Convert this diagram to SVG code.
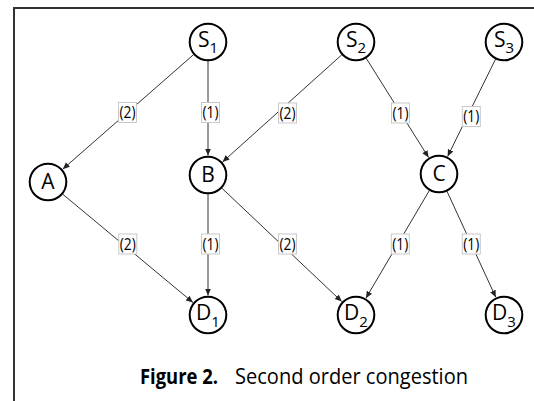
<svg xmlns="http://www.w3.org/2000/svg" width="534" height="401" viewBox="0 0 534 401">
<defs>
<marker id="arr" markerUnits="userSpaceOnUse" markerWidth="8" markerHeight="7" refX="7" refY="3" orient="auto">
<path d="M0,0 L7,3 L0,6 z" fill="#222"/>
</marker>
<style>
.node circle{fill:#fff;stroke:#000;stroke-width:2}
.nl{font-family:"Open Sans","Liberation Sans",sans-serif;font-size:21px;fill:#000;text-anchor:middle}
.sub{font-size:15px}
.edge{stroke:#333;stroke-width:1;fill:none;marker-end:url(#arr)}
.lb rect{fill:#fff;stroke:#c8c8c8;stroke-width:1}
.lb text{font-family:"Open Sans","Liberation Sans",sans-serif;font-size:15.5px;fill:#000;text-anchor:middle}
.cap{font-family:"Open Sans","Liberation Sans",sans-serif;font-size:21px;fill:#000}
</style>
</defs>
<rect width="534" height="401" fill="#fff"/>
<path d="M14,401 V8 H534" fill="none" stroke="#333" stroke-width="2"/>
<g id="connectors">
<line class="edge" x1="193.7" y1="54.5" x2="62.7" y2="169.2"/>
<line class="edge" x1="208" y1="61" x2="208" y2="155.5"/>
<line class="edge" x1="341.9" y1="54.7" x2="222.5" y2="162"/>
<line class="edge" x1="366.1" y1="58.1" x2="428.6" y2="157.5"/>
<line class="edge" x1="495.6" y1="59" x2="447.6" y2="156.5"/>
<line class="edge" x1="62.6" y1="194.1" x2="193" y2="302.5"/>
<line class="edge" x1="208" y1="194" x2="208" y2="295.5"/>
<line class="edge" x1="221.8" y1="188.1" x2="341.8" y2="301.6"/>
<line class="edge" x1="429.4" y1="190.4" x2="365.9" y2="298.2"/>
<line class="edge" x1="447" y1="191.3" x2="495.8" y2="297.3"/>
<g class="lb"><rect x="118.5" y="102.5" width="18" height="20"/><text x="127.5" y="118" textLength="16" lengthAdjust="spacingAndGlyphs">(2)</text></g>
<g class="lb"><rect x="201.5" y="102.5" width="18" height="20"/><text x="210.5" y="118" textLength="16" lengthAdjust="spacingAndGlyphs">(1)</text></g>
<g class="lb"><rect x="278.5" y="103" width="18" height="20"/><text x="287.5" y="118.5" textLength="16" lengthAdjust="spacingAndGlyphs">(2)</text></g>
<g class="lb"><rect x="391.5" y="103" width="18" height="20"/><text x="400.5" y="118.5" textLength="16" lengthAdjust="spacingAndGlyphs">(1)</text></g>
<g class="lb"><rect x="462.3" y="106.5" width="18" height="20"/><text x="471.3" y="122" textLength="16" lengthAdjust="spacingAndGlyphs">(1)</text></g>
<g class="lb"><rect x="118.8" y="234" width="18" height="20"/><text x="127.8" y="249.5" textLength="16" lengthAdjust="spacingAndGlyphs">(2)</text></g>
<g class="lb"><rect x="201.5" y="234" width="18" height="20"/><text x="210.5" y="249.5" textLength="16" lengthAdjust="spacingAndGlyphs">(1)</text></g>
<g class="lb"><rect x="278.5" y="234" width="18" height="20"/><text x="287.5" y="249.5" textLength="16" lengthAdjust="spacingAndGlyphs">(2)</text></g>
<g class="lb"><rect x="391.3" y="234" width="18" height="20"/><text x="400.3" y="249.5" textLength="16" lengthAdjust="spacingAndGlyphs">(1)</text></g>
<g class="lb"><rect x="462.3" y="234" width="18" height="20"/><text x="471.3" y="249.5" textLength="16" lengthAdjust="spacingAndGlyphs">(1)</text></g>
</g>
<g id="S1" class="node"><circle cx="208" cy="42" r="18.3"/><text class="nl" x="208" y="47">S<tspan class="sub" dy="6">1</tspan></text></g>
<g id="S2" class="node"><circle cx="356" cy="42" r="18.3"/><text class="nl" x="356" y="47">S<tspan class="sub" dy="6">2</tspan></text></g>
<g id="S3" class="node"><circle cx="504" cy="42" r="18.3"/><text class="nl" x="504" y="47">S<tspan class="sub" dy="6">3</tspan></text></g>
<g id="A" class="node"><circle cx="48" cy="182" r="18.3"/><text class="nl" x="48" y="189">A</text></g>
<g id="B" class="node"><circle cx="208" cy="175" r="18.3"/><text class="nl" x="208" y="182">B</text></g>
<g id="C" class="node"><circle cx="439" cy="174" r="18.3"/><text class="nl" x="439" y="181">C</text></g>
<g id="D1" class="node"><circle cx="208" cy="315" r="18.3"/><text class="nl" x="208" y="319.5">D<tspan class="sub" dy="7">1</tspan></text></g>
<g id="D2" class="node"><circle cx="356" cy="315" r="18.3"/><text class="nl" x="356" y="319.5">D<tspan class="sub" dy="7">2</tspan></text></g>
<g id="D3" class="node"><circle cx="504" cy="315" r="18.3"/><text class="nl" x="504" y="319.5">D<tspan class="sub" dy="7">3</tspan></text></g>
<text class="cap" y="384"><tspan x="140" font-weight="bold" textLength="78" lengthAdjust="spacingAndGlyphs">Figure 2.</tspan><tspan x="235" textLength="233" lengthAdjust="spacingAndGlyphs">Second order congestion</tspan></text>
</svg>
